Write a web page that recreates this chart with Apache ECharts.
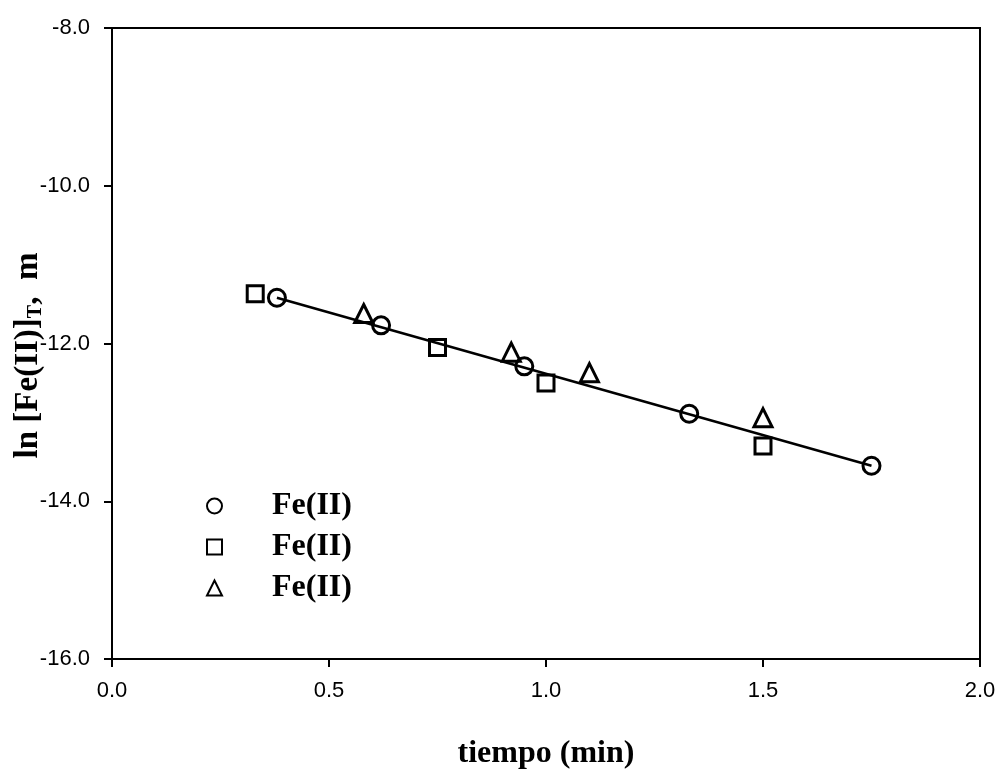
<!DOCTYPE html>
<html>
<head>
<meta charset="utf-8">
<script src="https://cdn.jsdelivr.net/npm/echarts@6/dist/echarts.min.js"></script>
<style>
  html, body { margin: 0; padding: 0; background: #fff; }
  #chart { width: 1000px; height: 771px; }
</style>
</head>
<body>
<div id="chart"></div>
<script>
// data
var circX = [0.38, 0.62, 0.95, 1.33, 1.75];
var circY = [-11.42, -11.77, -12.29, -12.89, -13.55];
var sqX = [0.33, 0.75, 1.0, 1.5];
var sqY = [-11.37, -12.05, -12.50, -13.30];
var triX = [0.58, 0.92, 1.10, 1.50];
var triY = [-11.62, -12.11, -12.37, -12.94];
var fitX = [0.38, 1.75];
var fitY = [-11.42, -13.55];
var xTicks = [0, 0.5, 1.0, 1.5, 2.0];
var yTicks = [-16, -14, -12, -10, -8];

function pairs(xs, ys) {
	var out = [];
	for (var i = 0; i < xs.length; i++) {
		out.push([xs[i], ys[i]]);
	}
	return out;
}

var serif = 'Liberation Serif';
var sans = 'Liberation Sans';
var hollow = {
	color: 'rgba(0,0,0,0)',
	borderColor: '#000',
	borderWidth: 3,
	opacity: 1
};

var myChart = echarts.init(document.getElementById('chart'));
var option = {
	animation: false,
	backgroundColor: '#fff',
	grid: {
		left: 112,
		right: 20,
		top: 28,
		bottom: 112,
		containLabel: false,
		outerBoundsMode: 'none',
		show: true,
		borderColor: '#000',
		borderWidth: 2
	},
	legend: {
		orient: 'vertical',
		left: 201,
		top: 484,
		itemWidth: 15,
		itemHeight: 15,
		itemGap: 7,
		data: ['c1', 's1', 't1'],
		formatter: function() { return 'Fe(II)'; },
		textStyle: {
			fontFamily: serif,
			fontWeight: 'bold',
			fontSize: 32,
			lineHeight: 34,
			color: '#000',
			padding: [0, 0, 0, 45]
		}
	},
	xAxis: {
		type: 'value',
		min: xTicks[0],
		max: xTicks[xTicks.length - 1],
		interval: 0.5,
		name: 'tiempo (min)',
		nameLocation: 'middle',
		nameGap: 79,
		nameMoveOverlap: false,
		nameTextStyle: {
			fontFamily: serif,
			fontWeight: 'bold',
			fontSize: 32,
			color: '#000'
		},
		axisLine: { lineStyle: { color: '#000', width: 2 } },
		axisTick: { inside: false, length: 8, lineStyle: { color: '#000', width: 2 } },
		axisLabel: {
			margin: 21,
			fontFamily: sans,
			fontSize: 22,
			color: '#000',
			formatter: function(v) { return v.toFixed(1); }
		},
		splitLine: { show: false }
	},
	yAxis: {
		type: 'value',
		min: yTicks[0],
		max: yTicks[yTicks.length - 1],
		interval: 2,
		name: '{n|ln [Fe(II)]}{s|T}{n|,  m}',
		nameLocation: 'middle',
		nameRotate: 90,
		nameGap: 66,
		nameMoveOverlap: false,
		nameTextStyle: {
			padding: [0, 24, 0, 0],
			rich: {
				n: { fontFamily: serif, fontWeight: 'bold', fontSize: 33, color: '#000' },
				s: { fontFamily: serif, fontWeight: 'bold', fontSize: 20, color: '#000', verticalAlign: 'bottom', padding: [16, 0, 0, 0] }
			}
		},
		axisLine: { lineStyle: { color: '#000', width: 2 } },
		axisTick: { inside: false, length: 8, lineStyle: { color: '#000', width: 2 } },
		axisLabel: {
			margin: 22,
			fontFamily: sans,
			fontSize: 22,
			color: '#000',
			formatter: function(v) { return v.toFixed(1); }
		},
		splitLine: { show: false }
	},
	series: [{
		name: 'fit',
		type: 'line',
		data: pairs(fitX, fitY),
		showSymbol: false,
		lineStyle: { color: '#000', width: 2.5 },
		z: 1
	}, {
		name: 'c1',
		type: 'scatter',
		symbol: 'circle',
		symbolSize: 17,
		itemStyle: hollow,
		data: pairs(circX, circY),
		z: 3
	}, {
		name: 's1',
		type: 'scatter',
		symbol: 'rect',
		symbolSize: 16,
		itemStyle: hollow,
		data: pairs(sqX, sqY),
		z: 3
	}, {
		name: 't1',
		type: 'scatter',
		symbol: 'triangle',
		symbolSize: 18,
		itemStyle: hollow,
		data: pairs(triX, triY),
		z: 3
	}]
};
myChart.setOption(option);
</script>
</body>
</html>
